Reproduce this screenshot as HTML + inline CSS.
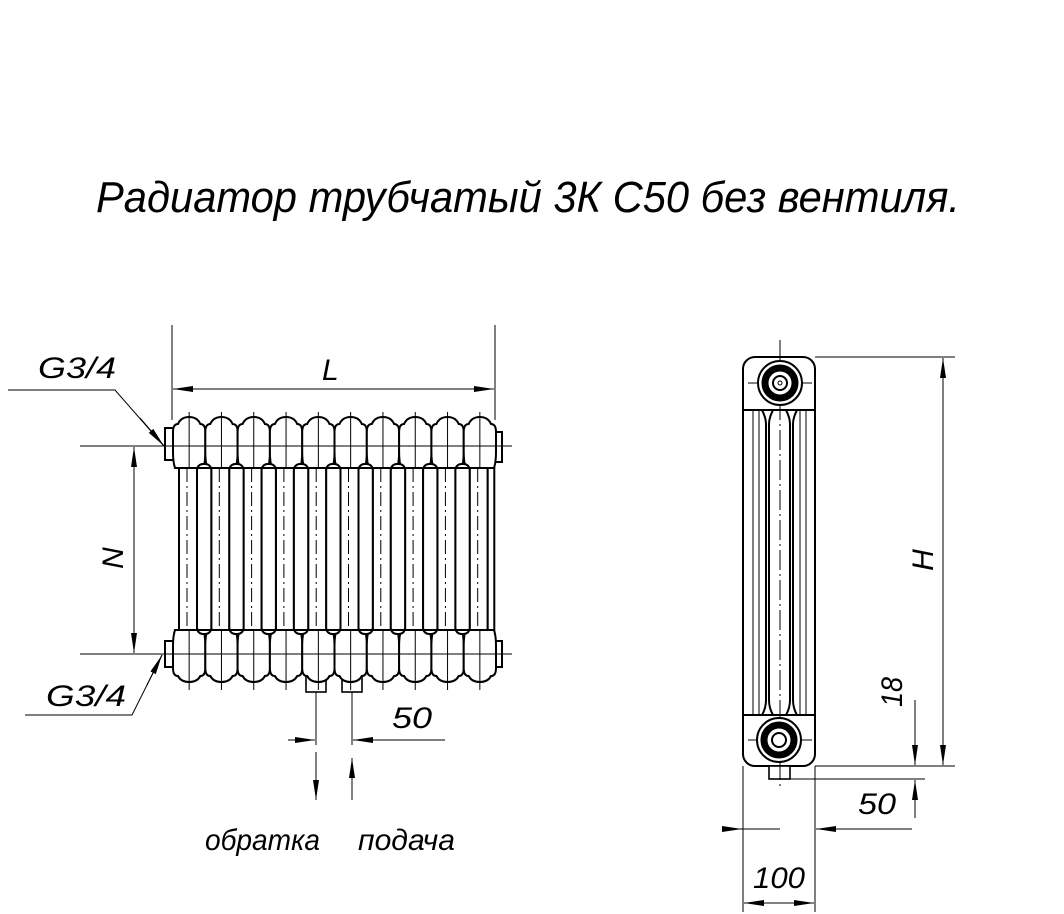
<!DOCTYPE html>
<html><head><meta charset="utf-8"><style>
body{margin:0;background:#fff}
svg{display:block}
text{font-family:"Liberation Sans",sans-serif;font-style:italic;fill:#000}
</style></head><body>
<svg width="1064" height="914" viewBox="0 0 1064 914" xmlns="http://www.w3.org/2000/svg">
<defs>
<marker id="a" viewBox="0 0 20 6" refX="20" refY="3" markerWidth="20" markerHeight="6" markerUnits="userSpaceOnUse" orient="auto"><path d="M0,0 L20,3 L0,6z" fill="#000"/></marker>
<g id="s" stroke="#000" stroke-width="2" fill="#fff">
<path d="M2,468 Q0,462 0,452 L0,432 Q0,424 5,424 Q8,417 16.15,417 Q24.3,417 27.3,424 Q32.3,424 32.3,432 L32.3,452 Q32.3,462 30.3,468 Z"/>
<path d="M2,630 Q0,636 0,646 L0,668 Q0,676 5,676 Q8,682 16.15,682 Q24.3,682 27.3,676 Q32.3,676 32.3,668 L32.3,646 Q32.3,636 30.3,630 Z"/>
<rect x="6" y="468" width="18" height="162"/>
<line x1="14" y1="468" x2="14" y2="630" stroke-width="1" stroke-dasharray="14,4,2,4"/>
<line x1="16.15" y1="412" x2="16.15" y2="468" stroke-width="1"/>
<line x1="16.15" y1="630" x2="16.15" y2="690" stroke-width="1"/>
</g>
<rect id="c" x="24" y="464" width="14.3" height="170" rx="6" stroke="#000" stroke-width="2" fill="#fff"/>
</defs>
<text x="96" y="212" font-size="44" textLength="864" lengthAdjust="spacingAndGlyphs" style="font-weight:300">Радиатор трубчатый 3К  С50 без вентиля.</text>

<g stroke="#000" fill="none" stroke-width="1">
<line x1="172" y1="325" x2="172" y2="420"/><line x1="495" y1="325" x2="495" y2="420"/>
<line x1="300" y1="389" x2="173" y2="389" marker-end="url(#a)"/><line x1="300" y1="389" x2="494" y2="389" marker-end="url(#a)"/>
<polyline points="8,390 115,390 164,446"/>
<line x1="140" y1="418" x2="164" y2="446" marker-end="url(#a)"/>
<polyline points="25,715 132,715 162,655"/>
<line x1="147" y1="685" x2="162" y2="655" marker-end="url(#a)"/>
<line x1="80" y1="446" x2="512" y2="446"/><line x1="80" y1="654" x2="512" y2="654"/>
<line x1="134" y1="550" x2="134" y2="447" marker-end="url(#a)"/><line x1="134" y1="550" x2="134" y2="653" marker-end="url(#a)"/>
<line x1="316" y1="660" x2="316" y2="745"/><line x1="352" y1="660" x2="352" y2="745"/>
<line x1="288" y1="740" x2="315" y2="740" marker-end="url(#a)"/>
<line x1="445" y1="740" x2="353" y2="740" marker-end="url(#a)"/>
<line x1="316" y1="752" x2="316" y2="800" marker-end="url(#a)"/>
<line x1="352" y1="800" x2="352" y2="758" marker-end="url(#a)"/>
</g>

<g stroke="#000" fill="#fff" stroke-width="2">
<rect x="306" y="676" width="20" height="16" stroke-width="1.6"/>
<rect x="342" y="676" width="20" height="16" stroke-width="1.6"/>
<rect x="165" y="428" width="9" height="32"/><rect x="493" y="432" width="9" height="30"/>
<rect x="165" y="641" width="9" height="26"/><rect x="493" y="641" width="9" height="26"/>
</g>
<use href="#s" transform="translate(173,0)"/>
<use href="#s" transform="translate(205.3,0)"/>
<use href="#s" transform="translate(237.6,0)"/>
<use href="#s" transform="translate(269.9,0)"/>
<use href="#s" transform="translate(302.2,0)"/>
<use href="#s" transform="translate(334.5,0)"/>
<use href="#s" transform="translate(366.8,0)"/>
<use href="#s" transform="translate(399.1,0)"/>
<use href="#s" transform="translate(431.4,0)"/>
<use href="#s" transform="translate(463.7,0)"/>
<use href="#c" transform="translate(173,0)"/>
<use href="#c" transform="translate(205.3,0)"/>
<use href="#c" transform="translate(237.6,0)"/>
<use href="#c" transform="translate(269.9,0)"/>
<use href="#c" transform="translate(302.2,0)"/>
<use href="#c" transform="translate(334.5,0)"/>
<use href="#c" transform="translate(366.8,0)"/>
<use href="#c" transform="translate(399.1,0)"/>
<use href="#c" transform="translate(431.4,0)"/>
<rect x="487.7" y="468" width="6.6" height="162" stroke="#000" stroke-width="2" fill="#fff"/>
<g stroke="#000" stroke-width="2"><line x1="176" y1="468" x2="493" y2="468"/><line x1="176" y1="630" x2="493" y2="630"/></g>
<g stroke="#000" stroke-width="1"><line x1="160" y1="446" x2="510" y2="446"/><line x1="160" y1="654" x2="510" y2="654"/></g>

<!-- side view -->
<g stroke="#000" fill="none" stroke-width="2">
<rect x="743" y="357" width="72" height="409" rx="12" fill="#fff"/>
<line x1="743" y1="410" x2="815" y2="410"/><line x1="743" y1="715" x2="815" y2="715"/>
<path d="M762,410 Q766,418 766,424 L766,700 Q766,708 762,715 M773,410 Q769,418 769,424 L769,700 Q769,708 773,715"/>
<path d="M786,410 Q790,418 790,424 L790,700 Q790,708 786,715 M797,410 Q793,418 793,424 L793,700 Q793,708 797,715"/>
<rect x="769" y="766" width="21" height="13" fill="#fff" stroke-width="1.6"/>
</g>
<g stroke="#000" stroke-width="1" fill="none">
<line x1="753" y1="410" x2="753" y2="715"/><line x1="759" y1="410" x2="759" y2="715"/>
<line x1="806" y1="410" x2="806" y2="715"/><line x1="800" y1="410" x2="800" y2="715"/>
<line x1="780" y1="340" x2="780" y2="790" stroke-dasharray="20,4,2,4"/>
<line x1="748" y1="383" x2="812" y2="383"/><line x1="748" y1="740" x2="812" y2="740"/>
</g>
<g stroke="#000">
<circle cx="780" cy="383" r="22" fill="#fff" stroke-width="2"/>
<circle cx="780" cy="383" r="15" fill="none" stroke-width="7"/>
<circle cx="780" cy="383" r="7" fill="#fff" stroke-width="2"/>
<circle cx="780" cy="383" r="2" fill="#fff" stroke-width="1"/>
<circle cx="779" cy="740" r="22" fill="#fff" stroke-width="2"/>
<circle cx="779" cy="740" r="15" fill="none" stroke-width="7"/>
<circle cx="779" cy="740" r="7" fill="#fff" stroke-width="2"/>
</g>
<g stroke="#000" stroke-width="1" fill="none">
<line x1="815" y1="357" x2="955" y2="357"/><line x1="815" y1="766" x2="955" y2="766"/>
<line x1="943" y1="560" x2="943" y2="358" marker-end="url(#a)"/><line x1="943" y1="560" x2="943" y2="765" marker-end="url(#a)"/>
<line x1="790" y1="779" x2="925" y2="779"/>
<line x1="915" y1="700" x2="915" y2="765" marker-end="url(#a)"/>
<line x1="915" y1="818" x2="915" y2="780" marker-end="url(#a)"/>
<line x1="743" y1="766" x2="743" y2="912"/><line x1="815" y1="766" x2="815" y2="912"/>
<line x1="722" y1="829" x2="742" y2="829" marker-end="url(#a)"/>
<line x1="742" y1="829" x2="780" y2="829"/>
<line x1="912" y1="829" x2="816" y2="829" marker-end="url(#a)"/>
<line x1="779" y1="903" x2="744" y2="903" marker-end="url(#a)"/><line x1="779" y1="903" x2="814" y2="903" marker-end="url(#a)"/>
</g>

<g font-size="30" style="font-weight:300">
<text x="322" y="380">L</text>
<text x="38" y="378" textLength="78" lengthAdjust="spacingAndGlyphs">G3/4</text>
<text x="46" y="706" textLength="80" lengthAdjust="spacingAndGlyphs">G3/4</text>
<text x="392" y="728" textLength="40" lengthAdjust="spacingAndGlyphs">50</text>
<text x="858" y="814" textLength="38" lengthAdjust="spacingAndGlyphs">50</text>
<text x="753" y="888" textLength="52" lengthAdjust="spacingAndGlyphs">100</text>
<text transform="translate(123,558) rotate(-90)" text-anchor="middle">N</text>
<text transform="translate(933,560) rotate(-90)" text-anchor="middle">H</text>
<text transform="translate(902,692) rotate(-90)" text-anchor="middle" textLength="30" lengthAdjust="spacingAndGlyphs">18</text>
<text x="205" y="850" textLength="115" lengthAdjust="spacingAndGlyphs">обратка</text>
<text x="358" y="850" textLength="97" lengthAdjust="spacingAndGlyphs">подача</text>
</g>
</svg>
</body></html>
